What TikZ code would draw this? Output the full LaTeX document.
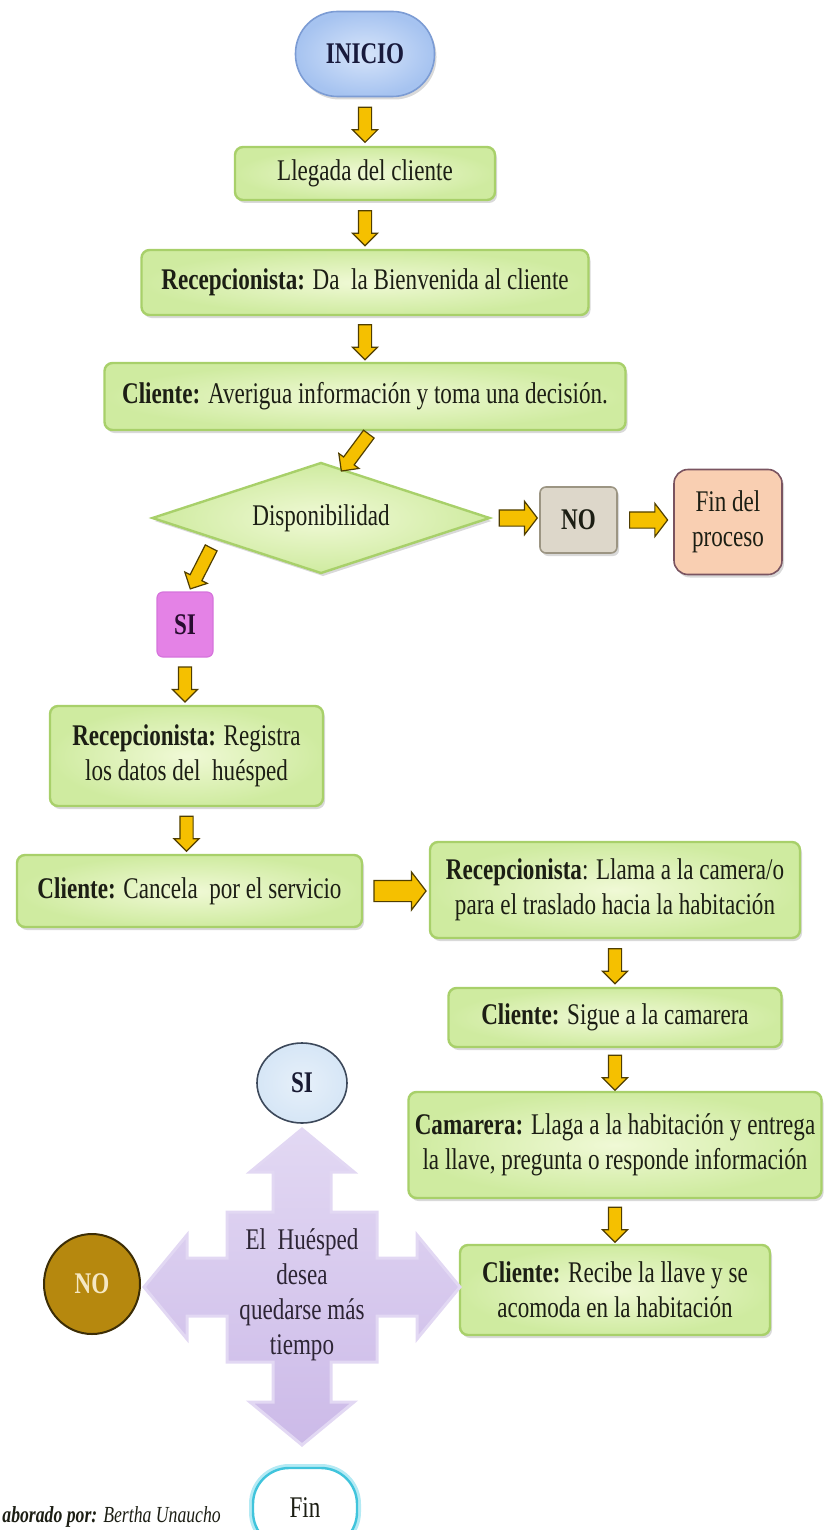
\documentclass[tikz,border=0pt]{standalone}
\usepackage{fontspec}
\setmainfont[FakeStretch=0.77]{Liberation Serif}
\usepackage{tikz}
\usetikzlibrary{shapes.geometric,shapes.arrows,shadows,calc}
\definecolor{CajaClara}{RGB}{240,249,214}
\definecolor{CajaVerde}{RGB}{207,235,160}
\definecolor{CajaBorde}{RGB}{168,208,106}
\definecolor{FlechaOro}{RGB}{245,192,0}
\definecolor{FlechaBorde}{RGB}{80,62,0}
\definecolor{TextoOscuro}{RGB}{28,30,20}
\definecolor{InicioClaro}{RGB}{214,228,250}
\definecolor{InicioAzul}{RGB}{166,195,240}
\definecolor{InicioBorde}{RGB}{124,156,212}
\definecolor{NoGris}{RGB}{221,215,202}
\definecolor{NoBorde}{RGB}{156,149,131}
\definecolor{FinDurazno}{RGB}{249,207,178}
\definecolor{FinBorde}{RGB}{122,84,96}
\definecolor{SiRosa}{RGB}{228,130,230}
\definecolor{SiBorde}{RGB}{214,116,220}
\definecolor{SiCeleste}{RGB}{214,230,246}
\definecolor{SiCirculoBorde}{RGB}{60,72,90}
\definecolor{Lila}{RGB}{204,186,232}
\definecolor{LilaClaro}{RGB}{226,216,243}
\definecolor{NoOcre}{RGB}{182,136,14}
\definecolor{NoOcreBorde}{RGB}{60,45,5}
\definecolor{NoCrema}{RGB}{245,232,196}
\definecolor{FinCian}{RGB}{64,196,220}
\definecolor{FinCianClaro}{RGB}{180,234,244}

\begin{document}
\begin{tikzpicture}[x=0.5pt,y=-0.5pt,
	every node/.style={text=TextoOscuro, font=\fontsize{15}{17.5}\selectfont, inner sep=0pt},
	sombra/.style={drop shadow={shadow xshift=1pt, shadow yshift=-1.5pt, opacity=.3}},
	caja/.style={rectangle, rounded corners=4pt, align=center, draw=CajaBorde, line width=1.2pt, inner color=CajaClara, outer color=CajaVerde, sombra},
	inicio/.style={rectangle, rounded corners=21pt, minimum width=69.5pt, minimum height=42.5pt, draw=InicioBorde, line width=.8pt, inner color=InicioClaro, outer color=InicioAzul, sombra, text={rgb,255:red,24;green,26;blue,60}},
	rombo/.style={diamond, aspect=3, minimum width=169pt, minimum height=55.5pt, draw=CajaBorde, line width=1.2pt, inner color=CajaClara, outer color=CajaVerde, sombra},
	cajano/.style={rectangle, rounded corners=3pt, minimum width=38.5pt, minimum height=33pt, draw=NoBorde, line width=.8pt, fill=NoGris, sombra},
	cajafin/.style={rectangle, rounded corners=7pt, align=center, minimum width=54pt, minimum height=52.5pt, draw=FinBorde, line width=.8pt, fill=FinDurazno, sombra},
	cajasi/.style={rectangle, rounded corners=3pt, minimum width=28pt, minimum height=32.5pt, draw=SiBorde, line width=.6pt, fill=SiRosa, text={rgb,255:red,40;green,12;blue,48}},
	circulosi/.style={ellipse, minimum width=45pt, minimum height=40pt, draw=SiCirculoBorde, line width=.8pt, inner color=SiCeleste!60!white, outer color=SiCeleste, text={rgb,255:red,24;green,26;blue,50}},
	circulono/.style={ellipse, minimum width=48pt, minimum height=50pt, draw=NoOcreBorde, line width=1pt, fill=NoOcre, text=NoCrema},
	finfin/.style={rectangle, rounded corners=18pt, minimum width=52pt, minimum height=40pt, draw=FinCian, line width=1.2pt, fill=white, preaction={draw=FinCianClaro, line width=4pt}},
	cruz/.style={top color=LilaClaro, bottom color=Lila, draw=LilaClaro, line width=1.5pt},
	textocruz/.style={align=center, text={rgb,255:red,45;green,37;blue,53}},
	autor/.style={font=\fontsize{11.5}{13}\selectfont},
	flecha/.style={single arrow, draw=FlechaBorde, fill=FlechaOro, line width=.6pt, inner sep=0pt, inner ysep=3pt, single arrow head extend=3pt, single arrow tip angle=90, minimum height=17.5pt, sloped, allow upside down, midway},
	flechaH/.style={flecha, inner ysep=3.75pt, single arrow head extend=4.25pt, single arrow tip angle=105, minimum height=19pt},
	flechaG/.style={flecha, inner ysep=5pt, single arrow head extend=4.25pt, single arrow tip angle=105, minimum height=26pt},
	flechaD/.style={flecha, minimum height=23pt}]
	\useasboundingbox (0,0) rectangle (827,1530);

	\node[inicio] (inicio) at (365,54) {\textbf{INICIO}};
	\node[caja, minimum width=130pt, minimum height=26.5pt] (llegada) at (365,173.5) {Llegada del cliente};
	\node[caja, minimum width=223.5pt, minimum height=32.5pt] (bienvenida) at (365,282.5) {\textbf{Recepcionista:} Da~~la Bienvenida al cliente};
	\node[caja, minimum width=260.5pt, minimum height=33.5pt] (averigua) at (365,396.5) {\textbf{Cliente:} Averigua información y toma una decisión.};
	\node[rombo] (dispo) at (321,518) {Disponibilidad};
	\node[cajano] (no) at (578.5,520) {\textbf{NO}};
	\node[cajafin] (finproc) at (728,522) {Fin del\\proceso};
	\node[cajasi] (si) at (185,624.5) {\textbf{SI}};
	\node[caja, minimum width=136.5pt, minimum height=50pt] (registra) at (186.5,756) {\textbf{Recepcionista:} Registra\\los datos del~~huésped};
	\node[caja, minimum width=172.5pt, minimum height=36pt] (cancela) at (189.5,891) {\textbf{Cliente:} Cancela~~por el servicio};
	\node[caja, minimum width=185pt, minimum height=48pt] (llama) at (615,890) {\textbf{Recepcionista}: Llama a la camera/o\\para el traslado hacia la habitación};
	\node[caja, minimum width=166.5pt, minimum height=29.5pt] (sigue) at (615,1017.5) {\textbf{Cliente:} Sigue a la camarera};
	\node[caja, minimum width=206.5pt, minimum height=53pt] (camarera) at (615,1145) {\textbf{Camarera:} Llaga a la habitación y entrega\\la llave, pregunta o responde información};
	\node[caja, minimum width=155pt, minimum height=45pt] (recibe) at (615,1290) {\textbf{Cliente:} Recibe la llave y se\\acomoda en la habitación};

	\coordinate (centrocruz) at (302,1287);
	\filldraw[cruz, shift={(centrocruz)}] (-75,-75) -- (-29,-75) -- (-29,-115) -- (-52,-115) -- (0,-158) -- (52,-115) -- (29,-115) -- (29,-75) -- (75,-75) -- (75,-29) -- (115,-29) -- (115,-52) -- (158,0) -- (115,52) -- (115,29) -- (75,29) -- (75,75) -- (29,75) -- (29,115) -- (52,115) -- (0,158) -- (-52,115) -- (-29,115) -- (-29,75) -- (-75,75) -- (-75,29) -- (-115,29) -- (-115,52) -- (-158,0) -- (-115,-52) -- (-115,-29) -- (-75,-29) -- cycle;
	\node[textocruz] (desea) at (302,1295) {El~~Huésped\\desea\\quedarse más\\tiempo};
	\node[circulosi] (sicirc) at (302,1083) {\textbf{SI}};
	\node[circulono] (nocirc) at (92,1284) {\textbf{NO}};
	\node[finfin] (fin) at (305,1508) {Fin};
	\node[autor, anchor=base west] (elaborado) at (2,1522) {\textbf{\textit{aborado por:}} \textit{Bertha Unaucho}};

	\path (inicio) -- (llegada) node[flecha] {};
	\path (llegada) -- (bienvenida) node[flecha] {};
	\path (bienvenida) -- (averigua) node[flecha] {};
	\path ([xshift=3pt]averigua.south) -- ($(dispo.north)!0.13!(dispo.east)$) node[flechaD] {};
	\path (dispo.east) -- (dispo.east -| no.west) node[flechaH] {};
	\path (no.east) -- (no.east -| finproc.west) node[flechaH] {};
	\path ($(dispo.west)!0.38!(dispo.south)$) -- ([xshift=2pt]si.north) node[flechaD] {};
	\path (si.south) -- (si.south |- registra.north) node[flecha] {};
	\path (registra.south) -- (registra.south |- cancela.north) node[flecha] {};
	\path (cancela.east) -- (cancela.east -| llama.west) node[flechaG] {};
	\path (llama) -- (sigue) node[flecha] {};
	\path (sigue) -- (camarera) node[flecha] {};
	\path (camarera) -- (recibe) node[flecha] {};
\end{tikzpicture}
\end{document}
